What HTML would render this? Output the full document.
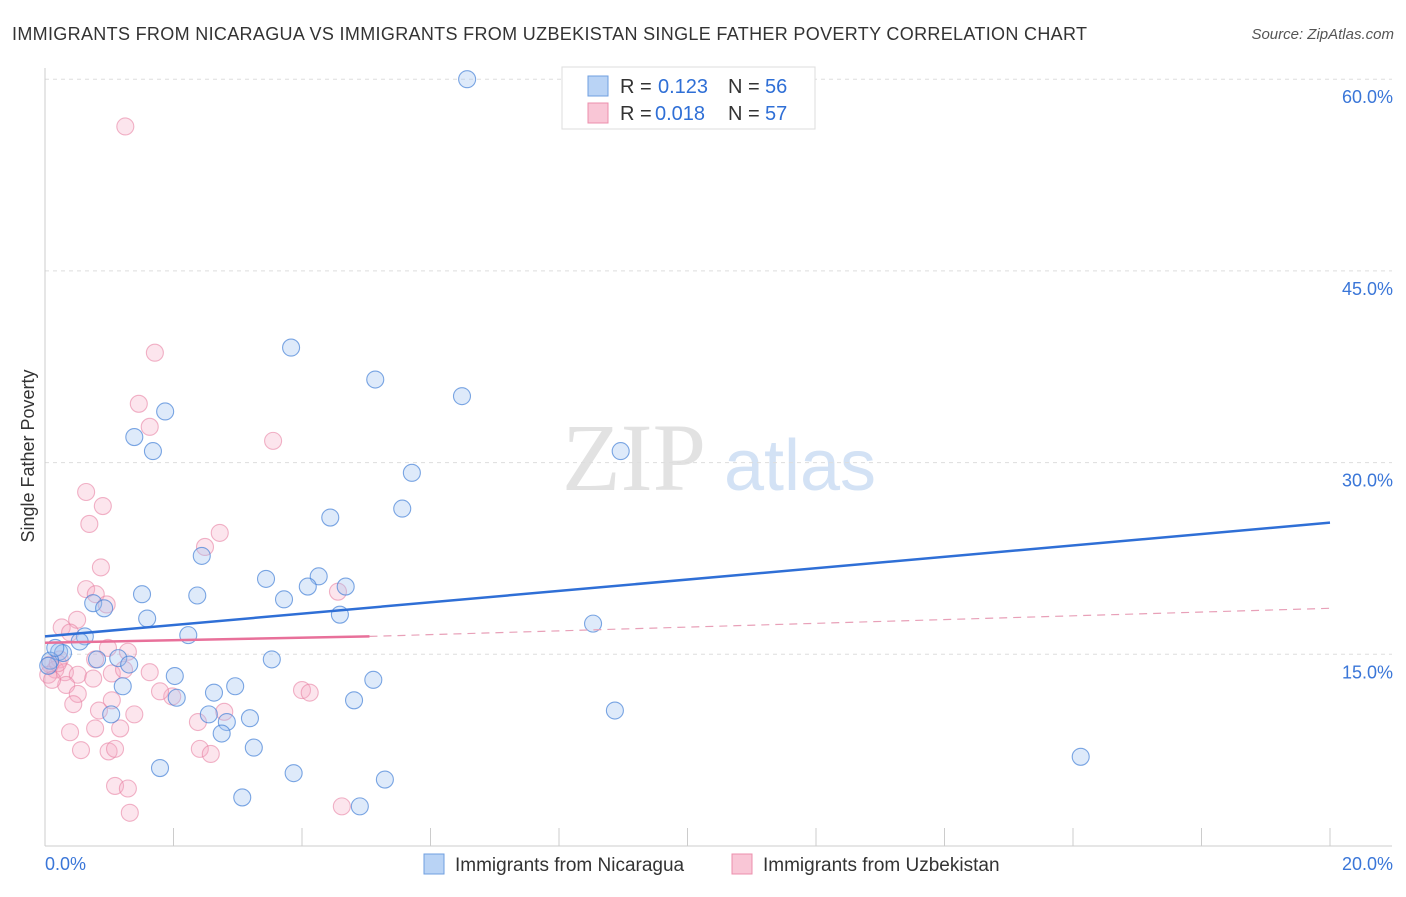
<!DOCTYPE html>
<html><head><meta charset="utf-8"><style>
body{margin:0;background:#fff;font-family:"Liberation Sans",sans-serif}
</style></head><body>
<svg width="1406" height="892" xmlns="http://www.w3.org/2000/svg" style="font-family:'Liberation Sans',sans-serif">
<text x="12" y="40" font-size="18" fill="#333" textLength="1075">IMMIGRANTS FROM NICARAGUA VS IMMIGRANTS FROM UZBEKISTAN SINGLE FATHER POVERTY CORRELATION CHART</text>
<text x="1394" y="39" font-size="15" fill="#555" font-style="italic" text-anchor="end">Source: ZipAtlas.com</text>
<text x="634" y="490" font-size="96" fill="#e2e2e2" font-family="Liberation Serif" text-anchor="middle">ZIP</text>
<text x="800" y="490" font-size="72" fill="#d3e2f5" text-anchor="middle">atlas</text>
<g id="grid"></g>
<g id="axes"></g>
<g id="pts"></g>
<g id="trend"></g>
<text transform="translate(34,456) rotate(-90)" font-size="18" fill="#333" text-anchor="middle">Single Father Poverty</text>
<g>
<rect x="562" y="67" width="253" height="62" fill="#fff" stroke="#ddd"/>
<rect x="588" y="76" width="20" height="20" fill="#b9d3f5" stroke="#6f9fe0"/>
<rect x="588" y="103" width="20" height="20" fill="#f9c6d6" stroke="#ec8fac"/>
<text x="620" y="93" font-size="20" fill="#333">R = </text><text x="658" y="93" font-size="20" fill="#2f6fd6">0.123</text>
<text x="728" y="93" font-size="20" fill="#333">N = </text><text x="765" y="93" font-size="20" fill="#2f6fd6">56</text>
<text x="620" y="120" font-size="20" fill="#333">R = </text><text x="655" y="120" font-size="20" fill="#2f6fd6">0.018</text>
<text x="728" y="120" font-size="20" fill="#333">N = </text><text x="765" y="120" font-size="20" fill="#2f6fd6">57</text>
</g>
<g>
<rect x="424" y="854" width="20" height="20" fill="#b9d3f5" stroke="#6f9fe0"/>
<text x="455" y="871" font-size="19" fill="#333">Immigrants from Nicaragua</text>
<rect x="732" y="854" width="20" height="20" fill="#f9c6d6" stroke="#ec8fac"/>
<text x="763" y="871" font-size="19" fill="#333">Immigrants from Uzbekistan</text>
</g>
</svg>
<script>
const yTicks=[15,30,45,60];
const xTickLabels=["0.0%","20.0%"];
const blueX=[6.57,3.83,5.14,6.49,1.87,1.39,1.68,8.96,5.71,5.56,4.44,2.44,3.44,4.26,4.68,4.09,1.51,2.37,3.72,4.59,0.75,0.92,1.59,8.53,2.23,0.62,0.54,0.22,0.28,0.81,1.14,1.31,3.53,2.02,5.11,1.21,2.96,2.63,2.05,4.81,8.87,1.03,2.55,3.19,2.83,2.75,3.25,16.12,1.79,3.87,5.29,3.07,4.90,0.08,0.16,0.05];
const blueY=[60.0,39.0,36.5,35.2,34.0,32.0,30.9,30.9,29.2,26.4,25.7,22.7,20.9,21.1,20.3,20.3,19.7,19.6,19.3,18.1,19.0,18.6,17.8,17.4,16.5,16.4,16.0,15.2,15.1,14.6,14.7,14.2,14.6,13.3,13.0,12.5,12.5,12.0,11.6,11.4,10.6,10.3,10.3,10.0,9.7,8.8,7.7,6.98,6.1,5.7,5.2,3.8,3.1,14.5,15.5,14.1];
const pinkX=[1.25,1.71,1.46,1.63,3.55,0.64,0.90,0.69,2.72,2.49,0.87,0.64,0.79,0.96,0.50,0.26,0.39,0.98,1.29,0.78,0.23,0.08,0.16,0.31,0.51,0.75,1.04,1.23,0.33,0.51,4.00,4.12,4.56,1.04,0.84,2.38,2.79,1.39,0.39,0.78,1.17,0.56,0.99,1.09,2.41,2.58,1.09,1.29,1.32,4.62,0.05,0.11,0.20,1.98,1.63,1.79,0.44];
const pinkY=[56.3,38.6,34.6,32.8,31.7,27.7,26.6,25.2,24.5,23.4,21.8,20.1,19.7,18.9,17.7,17.1,16.7,15.5,15.2,14.6,14.6,14.2,13.8,13.6,13.4,13.1,13.5,13.8,12.6,11.9,12.2,12.0,19.9,11.4,10.6,9.7,10.5,10.3,8.9,9.2,9.2,7.5,7.4,7.6,7.6,7.2,4.7,4.5,2.6,3.1,13.4,13.0,14.3,11.7,13.6,12.1,11.1];
const fitBlue=[16.4,25.3], fitPink=[15.9,16.4,18.6];
const X=v=>45+v*64.25, Y=v=>846-v*12.78;
const NS="http://www.w3.org/2000/svg";
function mk(p,t,a){const e=document.createElementNS(NS,t);for(const k in a)e.setAttribute(k,a[k]);document.getElementById(p).appendChild(e);return e;}
yTicks.forEach(v=>{
 const l=mk('grid','line',{x1:45,x2:1392,y1:Y(v),y2:Y(v),stroke:'#ddd','stroke-dasharray':'4 4'});
 
 
 const t=mk('grid','text',{x:1393,y:Y(v)+24,'font-size':18,fill:'#3a76d8','text-anchor':'end'});
 t.textContent=v.toFixed(1)+'%';
 
 
});
const ax=mk('axes','line',{x1:45,x2:45,y1:68,y2:846,stroke:'#ccc'});


const bx=mk('axes','line',{x1:45,x2:1392,y1:846,y2:846,stroke:'#ccc'});


for(let i=0;i<=10;i++){const tk=mk('axes','line',{x1:X(i*2),x2:X(i*2),y1:828,y2:846,stroke:'#ccc'});
 
 }
[[0,'start',45],[1,'end',1393]].forEach(([i,a,x])=>{const t=mk('axes','text',{x:x,y:870,'font-size':18,fill:'#3a76d8','text-anchor':a});t.textContent=xTickLabels[i];
 
 });
pinkX.forEach((v,i)=>{const c=mk('pts','circle',{cx:X(v),cy:Y(pinkY[i]),r:8.5,fill:'rgba(246,170,195,0.3)',stroke:'rgba(232,130,163,0.6)','stroke-width':1.1});
 
 });
blueX.forEach((v,i)=>{const c=mk('pts','circle',{cx:X(v),cy:Y(blueY[i]),r:8.5,fill:'rgba(160,196,240,0.35)',stroke:'rgba(70,130,215,0.7)','stroke-width':1.1});
 
 });
const b=mk('trend','line',{x1:X(0),y1:Y(fitBlue[0]),x2:X(20),y2:Y(fitBlue[1]),stroke:'#2f6fd6','stroke-width':2.5});


const p=mk('trend','line',{x1:X(0),y1:Y(fitPink[0]),x2:X(5.05),y2:Y(fitPink[1]),stroke:'#e8709a','stroke-width':2.5});


const pd=mk('trend','line',{x1:X(5.05),y1:Y(fitPink[1]),x2:X(20),y2:Y(fitPink[2]),stroke:'#e8a0b8','stroke-width':1.2,'stroke-dasharray':'8 6'});


</script>
</body></html>
